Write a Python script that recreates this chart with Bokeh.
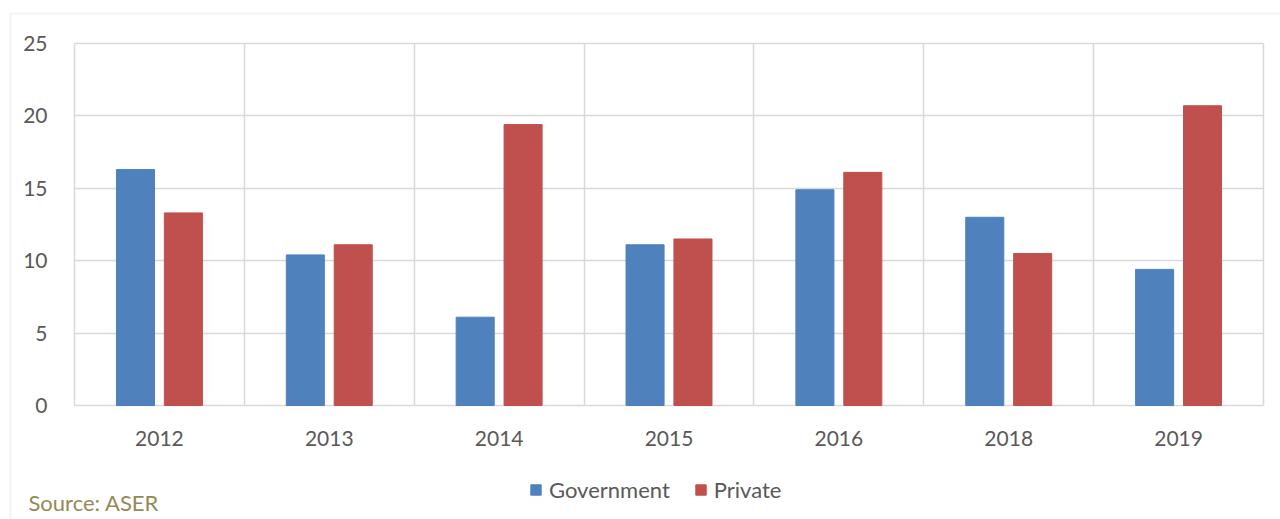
from bokeh.plotting import figure
from bokeh.models import (Range1d, FixedTicker, Legend, LegendItem, Label,
                          BoxAnnotation, ColumnDataSource)
from bokeh.embed import file_html
from bokeh.resources import INLINE

years = ["2012", "2013", "2014", "2015", "2016", "2018", "2019"]
government = [16.3, 10.4, 6.1, 11.1, 14.9, 13.0, 9.4]
private = [13.3, 11.1, 19.4, 11.5, 16.1, 10.5, 20.7]
y_ticks = [0, 5, 10, 15, 20, 25]
series = ["Government", "Private"]
source_note = "Source: ASER"

FONT = "Lato"
FS = "21px"
FS2 = "22px"
TXT = "#595959"
GRID = "#D9D9D9"
BLUE = "#4F81BD"
RED = "#C0504D"

W, H = 1280, 519
# plot-area placement on the canvas (pixels)
PL, PR, PT, PB = 74, 1263, 43, 405

n = len(years)
idx = list(range(n))
xs0, xs1 = -0.5, n - 0.5
ys0, ys1 = 0, 25
kx = (PR - PL) / (xs1 - xs0)
ky = (PB - PT) / (ys1 - ys0)
x_range = Range1d(xs0 - PL / kx, xs1 + (W - PR) / kx)
y_range = Range1d(ys0 - (H - PB) / ky, ys1 + PT / ky)

off = 0.141
bw = 0.224
src = ColumnDataSource(dict(
    xg=[i - off for i in idx], xp=[i + off for i in idx],
    gov=government, priv=private))

p = figure(width=W, height=H, output_backend="svg", toolbar_location=None,
           x_range=x_range, y_range=y_range,
           min_border_left=0, min_border_top=0, min_border_right=0,
           min_border_bottom=0)
p.background_fill_color = "white"
p.border_fill_color = "white"
p.outline_line_color = None

rg = p.vbar(x="xg", top="gov", width=bw, source=src, color=BLUE, line_color=BLUE)
rp = p.vbar(x="xp", top="priv", width=bw, source=src, color=RED, line_color=RED)

p.yaxis.fixed_location = xs0
p.yaxis.ticker = FixedTicker(ticks=y_ticks)
p.yaxis.axis_line_color = None
p.yaxis.major_tick_line_color = None
p.yaxis.minor_tick_line_color = None
p.yaxis.major_label_standoff = 21
p.yaxis.major_label_text_font = FONT
p.yaxis.major_label_text_font_size = FS
p.yaxis.major_label_text_color = TXT

p.xaxis.fixed_location = ys0
p.xaxis.ticker = FixedTicker(ticks=idx)
p.xaxis.major_label_overrides = {i: y for i, y in zip(idx, years)}
p.xaxis.axis_line_color = None
p.xaxis.major_tick_line_color = None
p.xaxis.minor_tick_line_color = None
p.xaxis.major_label_standoff = 19
p.xaxis.major_label_text_font = FONT
p.xaxis.major_label_text_font_size = FS
p.xaxis.major_label_text_color = TXT

p.ygrid.ticker = FixedTicker(ticks=y_ticks)
p.ygrid.cross_bounds = (xs0, xs1)
p.ygrid.grid_line_color = GRID
p.ygrid.grid_line_width = 1.5
p.xgrid.ticker = FixedTicker(ticks=[i - 0.5 for i in range(n + 1)])
p.xgrid.cross_bounds = (ys0, ys1)
p.xgrid.grid_line_color = GRID
p.xgrid.grid_line_width = 1.5

legend = Legend(items=[LegendItem(label=series[0], renderers=[rg]),
                       LegendItem(label=series[1], renderers=[rp])],
                orientation="horizontal", location=(529, 16),
                glyph_width=13, glyph_height=13, label_standoff=7, spacing=24,
                label_text_font=FONT, label_text_font_size=FS2,
                label_text_color=TXT, border_line_color=None,
                background_fill_alpha=0, margin=0, padding=0)
p.add_layout(legend, "center")

p.add_layout(Label(x=28, y=H - 502, x_units="screen", y_units="screen",
                   text=source_note, text_font=FONT, text_font_size=FS2,
                   text_color="#948A54", text_baseline="middle"))

# outer chart-area border
p.add_layout(BoxAnnotation(left=10, right=W + 20, top=H - 13, bottom=-20,
                           left_units="screen", right_units="screen",
                           top_units="screen", bottom_units="screen",
                           fill_color=None, line_color=GRID, line_width=2,
                           level="underlay"))

open("out.html", "w").write(file_html(p, INLINE))
